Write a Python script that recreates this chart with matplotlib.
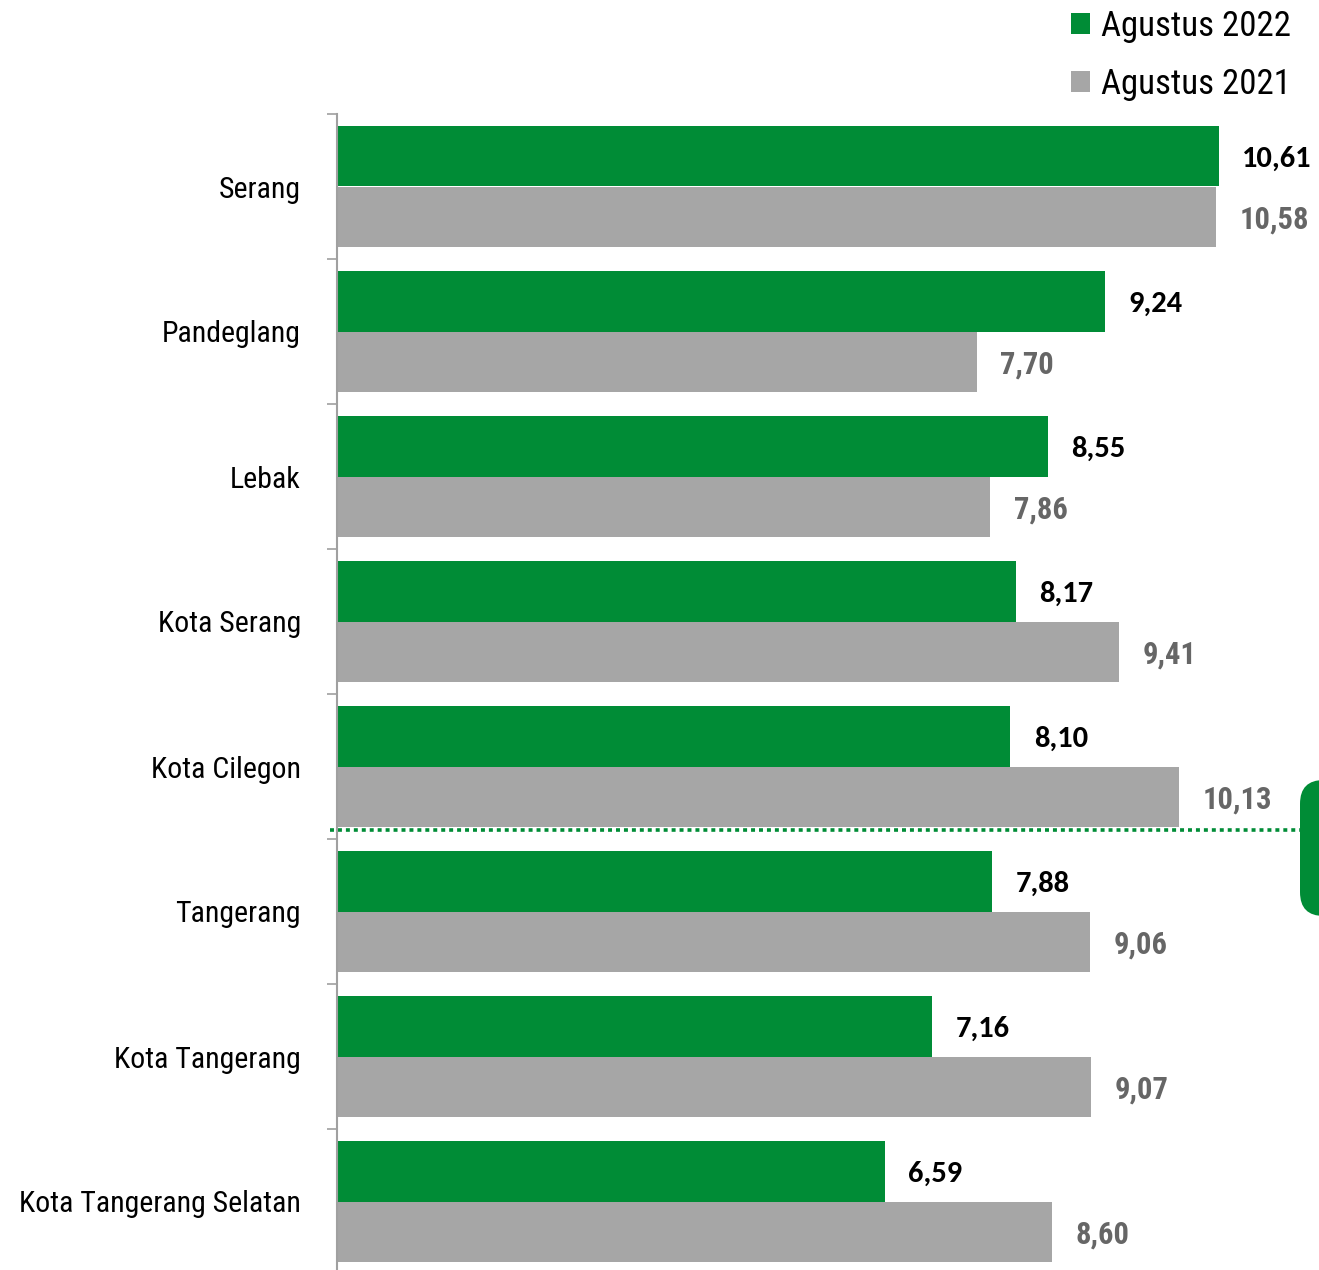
import matplotlib
matplotlib.use("Agg")
import matplotlib.pyplot as plt
from matplotlib.patches import FancyBboxPatch
import numpy as np

# data
categories = ["Serang", "Pandeglang", "Lebak", "Kota Serang", "Kota Cilegon",
              "Tangerang", "Kota Tangerang", "Kota Tangerang Selatan"]
agustus_2022 = [10.61, 9.24, 8.55, 8.17, 8.10, 7.88, 7.16, 6.59]
agustus_2021 = [10.58, 7.70, 7.86, 9.41, 10.13, 9.06, 9.07, 8.60]
series_labels = ["Agustus 2022", "Agustus 2021"]

hijau = "#008C36"
abu = "#A6A6A6"
narrow = ["Roboto Condensed", "Archivo Narrow", "DejaVu Sans"]
calibri = ["Carlito", "Open Sans", "DejaVu Sans"]

W, H = 1319, 1270
fig = plt.figure(figsize=(W / 100, H / 100), dpi=100)
ax = fig.add_axes([337 / W, -4 / H, 1 - 337 / W, (1274 - 114) / H])

y = np.arange(len(categories))
h = 0.42
b1 = ax.barh(y - h / 2, agustus_2022, height=h, color=hijau, label=series_labels[0])
b2 = ax.barh(y + h / 2, agustus_2021, height=h, color=abu, label=series_labels[1])

# label nilai
for rect, v in zip(b1, agustus_2022):
    ax.annotate(f"{v:.2f}".replace(".", ","), (rect.get_width(), rect.get_y() + rect.get_height() / 2),
                xytext=(17, -2), textcoords="offset points", ha="left", va="center",
                fontsize=22, fontweight="bold", color="black", family=calibri)
for rect, v in zip(b2, agustus_2021):
    ax.annotate(f"{v:.2f}".replace(".", ","), (rect.get_width(), rect.get_y() + rect.get_height() / 2),
                xytext=(17, -2), textcoords="offset points", ha="left", va="center",
                fontsize=22, fontweight="bold", color="#666666", family=narrow)

ax.set_xlim(0, (W - 337) / 83.1)
ax.set_ylim(len(categories) - 0.5, -0.5)

ax.set_yticks(y)
ax.set_yticklabels(categories, fontsize=21.5, family=narrow)
ax.tick_params(axis="y", which="major", length=0, pad=26)
ax.set_yticks(np.arange(len(categories) + 1) - 0.5, minor=True)
ax.tick_params(axis="y", which="minor", length=7, width=1.2, color="#A0A0A0")
ax.set_xticks([])
for s in ["top", "right", "bottom"]:
    ax.spines[s].set_visible(False)
ax.spines["left"].set_color("#A0A0A0")
ax.spines["left"].set_linewidth(1.5)

# garis putus-putus pemisah
ax.plot([-0.09, ax.get_xlim()[1]], [4.438, 4.438], color=hijau, lw=2.6,
        linestyle=(0, (1.1, 1.1)), clip_on=False)

# kotak hijau di tepi kanan
box = FancyBboxPatch((1300 / W, (H - 916) / H), 60 / W, 136 / H,
                     boxstyle="round,pad=0,rounding_size=0.018",
                     transform=fig.transFigure, facecolor=hijau, edgecolor="none",
                     mutation_aspect=W / H)
fig.patches.append(box)

leg = fig.legend(handles=[b1, b2], loc="upper left", bbox_to_anchor=(1071 / W, 1 - 10 / H),
                 frameon=False, prop={"family": narrow, "size": 25},
                 handlelength=0.55, handleheight=0.55, handletextpad=0.3, labelspacing=0.72,
                 borderaxespad=0, borderpad=0)

fig.savefig("out.png", dpi=100)
